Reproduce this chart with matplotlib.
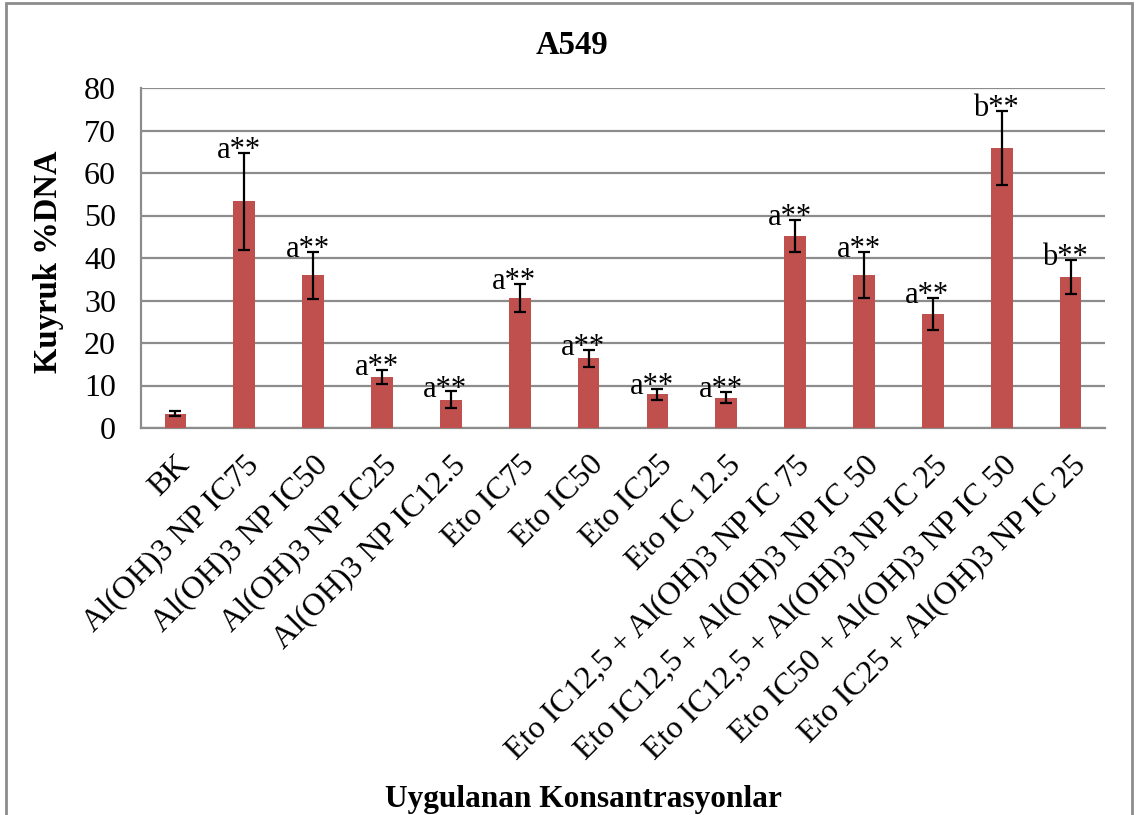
import numpy as np
import matplotlib
matplotlib.use("Agg")
import matplotlib.pyplot as plt
from matplotlib.patches import Rectangle

# Data
kategoriler = ["BK", "Al(OH)3 NP IC75", "Al(OH)3 NP IC50", "Al(OH)3 NP IC25",
               "Al(OH)3 NP IC12.5", "Eto IC75", "Eto IC50", "Eto IC25", "Eto IC 12.5",
               "Eto IC12,5 + Al(OH)3 NP IC 75", "Eto IC12,5 + Al(OH)3 NP IC 50",
               "Eto IC12,5 + Al(OH)3 NP IC 25", "Eto IC50 + Al(OH)3 NP IC 50",
               "Eto IC25 + Al(OH)3 NP IC 25"]
ortalama = [3.4, 53.3, 35.9, 12.0, 6.6, 30.7, 16.4, 7.9, 7.1, 45.1, 36.1, 26.9, 65.9, 35.5]
hata = [0.6, 11.5, 5.6, 1.7, 2.0, 3.3, 2.0, 1.3, 1.3, 3.8, 5.4, 3.8, 8.7, 4.0]
etiketler = ["", "a**", "a**", "a**", "a**", "a**", "a**", "a**", "a**",
             "a**", "a**", "a**", "b**", "b**"]

plt.rcParams['font.family'] = ['Liberation Serif', 'DejaVu Serif']

fig = plt.figure(figsize=(11.36, 8.15), dpi=100)
ax = fig.add_axes([141/1136, 1-428/815, 964/1136, 340/815])

x = np.arange(len(kategoriler))
ax.bar(x, ortalama, width=0.315, color='#C0504D', zorder=3)
ax.errorbar(x, ortalama, yerr=hata, fmt='none', ecolor='black', elinewidth=1.6,
            capsize=4, capthick=1.6, zorder=4)

for i, lab in enumerate(etiketler):
    if lab:
        ax.text(x[i] - 0.08, ortalama[i] + hata[i] - 1.2, lab, ha='center',
                va='baseline', fontsize=22, zorder=5)

ax.set_xlim(-0.5, len(kategoriler) - 0.5)
ax.set_ylim(0, 80)
ax.set_yticks(range(0, 81, 10))
ax.yaxis.grid(True, color='#8c8c8c', linewidth=1.6, zorder=0)
ax.set_axisbelow(True)
for s in ['top', 'right']:
    ax.spines[s].set_visible(False)
for s in ['left', 'bottom']:
    ax.spines[s].set_color('#8c8c8c')
    ax.spines[s].set_linewidth(1.6)
ax.tick_params(axis='both', length=0, labelsize=23)
ax.tick_params(axis='y', pad=18)
ax.tick_params(axis='x', pad=16)
ax.set_xticks(x)
ax.set_xticklabels(kategoriler, rotation=45, ha='right', rotation_mode='anchor')

fig.text(49/1136, 1-262/815, "Kuyruk %DNA", rotation=90, ha='center', va='center',
         fontsize=23.5, fontweight='bold')
fig.text(572/1136, 1-45/815, "A549", ha='center', va='center', fontsize=23.5,
         fontweight='bold')
fig.text(583/1136, 1-800/815, "Uygulanan Konsantrasyonlar", ha='center', va='center',
         fontsize=22.6, fontweight='bold')

# outer frame of the chart (bottom edge cut off)
fig.add_artist(Rectangle((6/1136, -0.05), 1126/1136, 1.05 - 3/815,
                         transform=fig.transFigure, fill=False,
                         edgecolor='#8c8c8c', linewidth=2))

fig.savefig("out.png", dpi=100)
